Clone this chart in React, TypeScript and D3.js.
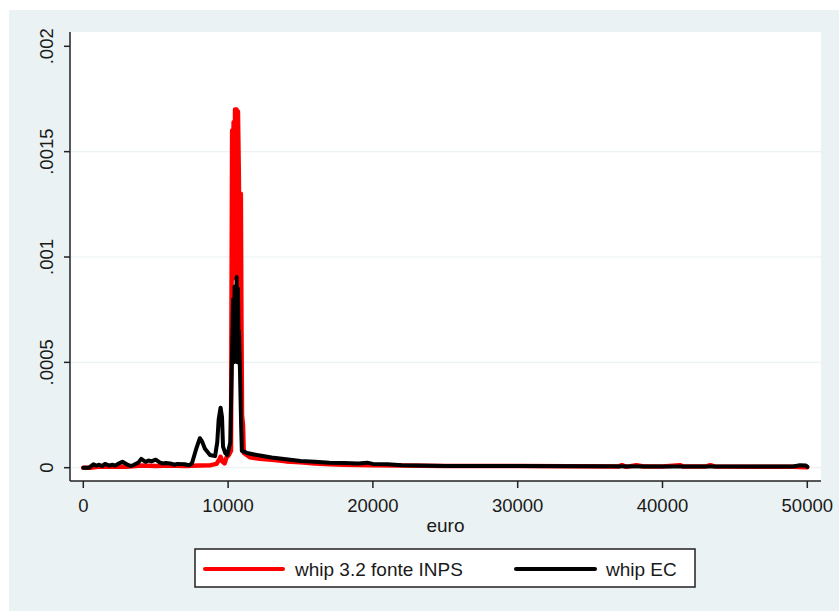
import * as d3 from 'd3';

// density estimates
const inpsEuro = [0, 500, 1000, 2000, 3000, 4000, 5000, 6000, 7000, 8000, 8800, 9200, 9400, 9480, 9600, 9750, 9900, 10050, 10200, 10280, 10330, 10380, 10430, 10480, 10530, 10580, 10630, 10680, 10740, 10800, 10880, 10920, 10960, 11030, 11080, 11500, 12200, 13200, 14000, 15000, 16000, 17000, 18000, 20000, 22000, 25000, 30000, 37000, 37200, 37500, 38200, 38700, 40000, 41200, 41400, 43000, 43300, 43600, 49000, 50000];
const inpsDensity = [0, 0, 0.000004, 0.000006, 0.000004, 0.00001, 0.000008, 0.00001, 0.000008, 0.00001, 0.000012, 0.000018, 0.00004, 0.000052, 0.00003, 0.00002, 0.00005, 0.00006, 0.00008, 0.0016, 0.0009, 0.00164, 0.0009, 0.0017, 0.0009, 0.0017, 0.0009, 0.00169, 0.0014, 0.0008, 0.0013, 0.0007, 0.00025, 0.0002, 0.00007, 0.00005, 0.000042, 0.000036, 0.00003, 0.000026, 0.00002, 0.000016, 0.000014, 0.000012, 0.00001, 0.000008, 0.000008, 0.000006, 0.000012, 0.000004, 0.000012, 0.000006, 0.000006, 0.000012, 0.000006, 0.000006, 0.000012, 0.000006, 0.000004, 0.000002];

const ecEuro = [0, 400, 700, 900, 1100, 1300, 1500, 1800, 2000, 2200, 2400, 2700, 3000, 3300, 3500, 3800, 4000, 4300, 4500, 4700, 5000, 5300, 5500, 5700, 6000, 6300, 6500, 7000, 7300, 7500, 7800, 8050, 8200, 8400, 8750, 9100, 9250, 9350, 9480, 9580, 9650, 9800, 9950, 10150, 10250, 10350, 10400, 10450, 10520, 10590, 10640, 10680, 10730, 10750, 10820, 10900, 10950, 11300, 12000, 13000, 14000, 15000, 16000, 17000, 18000, 19000, 19600, 20000, 21000, 22000, 25000, 30000, 35000, 40000, 45000, 49000, 49500, 49900, 50000];
const ecDensity = [0, 0, 0.000016, 0.00001, 0.000014, 0.000008, 0.000018, 0.00001, 0.000014, 0.00001, 0.000018, 0.000028, 0.000016, 0.000008, 0.000014, 0.000024, 0.000042, 0.000028, 0.000034, 0.00003, 0.000038, 0.000024, 0.00002, 0.000022, 0.00002, 0.000014, 0.000018, 0.000016, 0.000012, 0.00002, 0.00009, 0.00014, 0.000125, 0.00009, 0.00006, 0.000055, 0.00012, 0.00023, 0.000285, 0.00024, 0.0001, 0.00007, 0.00006, 0.00012, 0.00046, 0.0008, 0.0005, 0.00086, 0.00055, 0.000905, 0.0005, 0.00085, 0.0005, 0.00065, 0.00046, 0.0002, 0.00008, 0.00007, 0.00006, 0.000048, 0.00004, 0.000032, 0.000028, 0.000024, 0.000022, 0.00002, 0.000024, 0.000018, 0.000016, 0.000012, 0.000008, 0.000008, 0.000007, 0.000006, 0.000006, 0.000006, 0.000012, 0.00001, 0.000004];

const xTicks = [0, 10000, 20000, 30000, 40000, 50000];
const yTicks = [0, 0.0005, 0.001, 0.0015, 0.002];
const yTickLabels = ['0', '.0005', '.001', '.0015', '.002'];
const seriesNames = ['whip 3.2 fonte INPS', 'whip EC'];

const W = 839, H = 611;
const plot = { left: 70, right: 821, top: 32, bottom: 481 };
const font = 'Arial, "Liberation Sans", sans-serif';
const bg = '#EAF2F3';

export default function App() {
  const x = d3.scaleLinear().domain([0, 50000]).range([83.3, 807.3]);
  const y = d3.scaleLinear().domain([0, 0.002]).range([467.7, 46.3]);

  const line = d3.line<[number, number]>().x(d => x(d[0])).y(d => y(d[1]));
  const inps = line(inpsEuro.map((e, i) => [e, inpsDensity[i]] as [number, number])) ?? '';
  const ec = line(ecEuro.map((e, i) => [e, ecDensity[i]] as [number, number])) ?? '';

  const legY = 569;

  return (
    <svg width={W} height={H} style={{ position: 'absolute', left: 0, top: 0 }} fontFamily={font}>
      <rect x={9} y={10} width={W - 9} height={H - 10} fill={bg} />
      <rect x={plot.left} y={plot.top} width={plot.right - plot.left} height={plot.bottom - plot.top} fill="#fff" />

      {/* grid */}
      {yTicks.slice(0, 4).map(t => (
        <line key={t} x1={plot.left} x2={plot.right} y1={y(t)} y2={y(t)} stroke={bg} strokeWidth={1.2} />
      ))}

      {/* series */}
      <path d={inps} fill="none" stroke="#FF0000" strokeWidth={4.5} strokeLinejoin="round" strokeLinecap="round" />
      <path d={ec} fill="none" stroke="#000" strokeWidth={4} strokeLinejoin="round" strokeLinecap="round" />

      {/* axes */}
      <line x1={plot.left} x2={plot.left} y1={plot.top} y2={plot.bottom} stroke="#222" strokeWidth={1.5} />
      <line x1={plot.left} x2={plot.right} y1={plot.bottom} y2={plot.bottom} stroke="#222" strokeWidth={1.5} />
      {yTicks.map((t, i) => (
        <g key={t}>
          <line x1={plot.left - 6} x2={plot.left} y1={y(t)} y2={y(t)} stroke="#222" strokeWidth={1.5} />
          <text transform={`translate(53,${y(t)}) rotate(-90)`} textAnchor="middle" fontSize={18.5} fill="#1a1a1a">
            {yTickLabels[i]}
          </text>
        </g>
      ))}
      {xTicks.map(t => (
        <g key={t}>
          <line x1={x(t)} x2={x(t)} y1={plot.bottom} y2={plot.bottom + 7} stroke="#222" strokeWidth={1.5} />
          <text x={x(t)} y={512} textAnchor="middle" fontSize={18.5} fill="#1a1a1a">{t}</text>
        </g>
      ))}
      <text x={(plot.left + plot.right) / 2} y={532} textAnchor="middle" fontSize={19} fill="#1a1a1a">euro</text>

      {/* legend */}
      <rect x={195} y={549} width={500} height={38} fill="#fff" stroke="#222" strokeWidth={1.5} />
      <line x1={205} x2={283} y1={legY} y2={legY} stroke="#FF0000" strokeWidth={4} strokeLinecap="round" />
      <text x={295} y={576} fontSize={19} fill="#1a1a1a">{seriesNames[0]}</text>
      <line x1={516} x2={595} y1={legY} y2={legY} stroke="#000" strokeWidth={4} strokeLinecap="round" />
      <text x={606} y={576} fontSize={19} fill="#1a1a1a">{seriesNames[1]}</text>
    </svg>
  );
}
